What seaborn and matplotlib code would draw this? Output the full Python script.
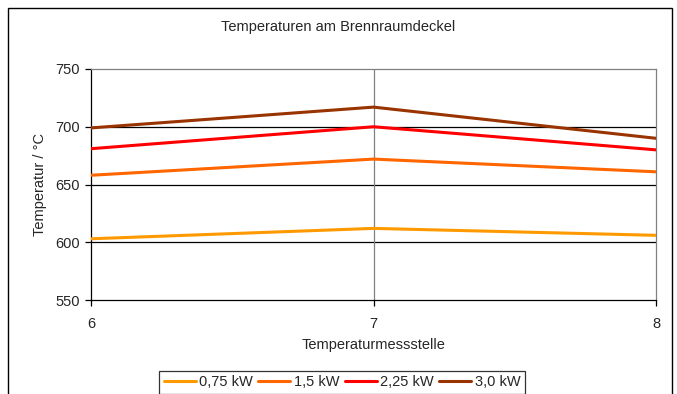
import matplotlib
matplotlib.use("Agg")
import matplotlib.pyplot as plt
import seaborn as sns
import pandas as pd
from matplotlib.patches import Rectangle

x_pos = [6, 7, 8]
labels = ["0,75 kW", "1,5 kW", "2,25 kW", "3,0 kW"]
v075 = [603, 612, 606]
v15 = [658, 672, 661]
v225 = [681, 700, 680]
v30 = [699, 717, 690]
colors = ["#FF9900", "#FF6600", "#FF0000", "#993300"]

rows = []
for lab, vals in zip(labels, [v075, v15, v225, v30]):
    for xx, vv in zip(x_pos, vals):
        rows.append({"x": xx, "T": vv, "s": lab})
df = pd.DataFrame(rows)

sns.set_style("white")
plt.rcParams['font.family'] = ['Liberation Sans', 'DejaVu Sans']
FS = 10.5
plt.rcParams['font.size'] = FS

W, H = 677, 394
fig = plt.figure(figsize=(W/100, H/100), dpi=100)
ax = fig.add_axes([91/W, 1-300/H, (656-91)/W, (300-69)/H])

for y in [600, 650, 700]:
    ax.axhline(y, color="black", lw=0.9, zorder=1)
ax.axvline(7, color="#808080", lw=0.9, zorder=1)

sns.lineplot(data=df, x="x", y="T", hue="s", palette=colors, lw=2.2,
             ax=ax, legend=False, zorder=3)

ax.set_xlim(6, 8)
ax.set_ylim(550, 750)
ax.set_xticks([6, 7, 8])
ax.set_yticks([550, 600, 650, 700, 750])
ax.tick_params(axis="both", direction="out", length=4, width=0.9, color="black",
               labelsize=FS, left=True, bottom=True)
ax.tick_params(axis="x", pad=8)
ax.tick_params(axis="y", pad=4)
for side in ["top", "right"]:
    ax.spines[side].set_color("#808080")
    ax.spines[side].set_linewidth(0.9)
for side in ["left", "bottom"]:
    ax.spines[side].set_color("black")
    ax.spines[side].set_linewidth(0.9)
ax.set_xlabel("Temperaturmessstelle", fontsize=FS, labelpad=5)
ax.set_ylabel("Temperatur / °C", fontsize=FS, labelpad=6)
fig.text(0.5, 1-27/H, "Temperaturen am Brennraumdeckel", ha="center", va="center", fontsize=FS)

handles = [plt.Line2D([], [], color=c, lw=2.2) for c in colors]
leg = fig.legend(handles, labels, loc="upper center", bbox_to_anchor=(342/W, 1-371/H),
                 ncol=4, frameon=True, fancybox=False, fontsize=FS, handlelength=2.2,
                 handletextpad=0.25, columnspacing=0.35, borderpad=0.3, borderaxespad=0)
leg.get_frame().set_edgecolor("black")
leg.get_frame().set_linewidth(0.9)

fig.patches.append(Rectangle((8/W, -0.1), (672-8)/W, 1.1 - 8/H, transform=fig.transFigure,
                             fill=False, edgecolor="black", lw=1.0, clip_on=False))

fig.savefig("out.png", dpi=100)
